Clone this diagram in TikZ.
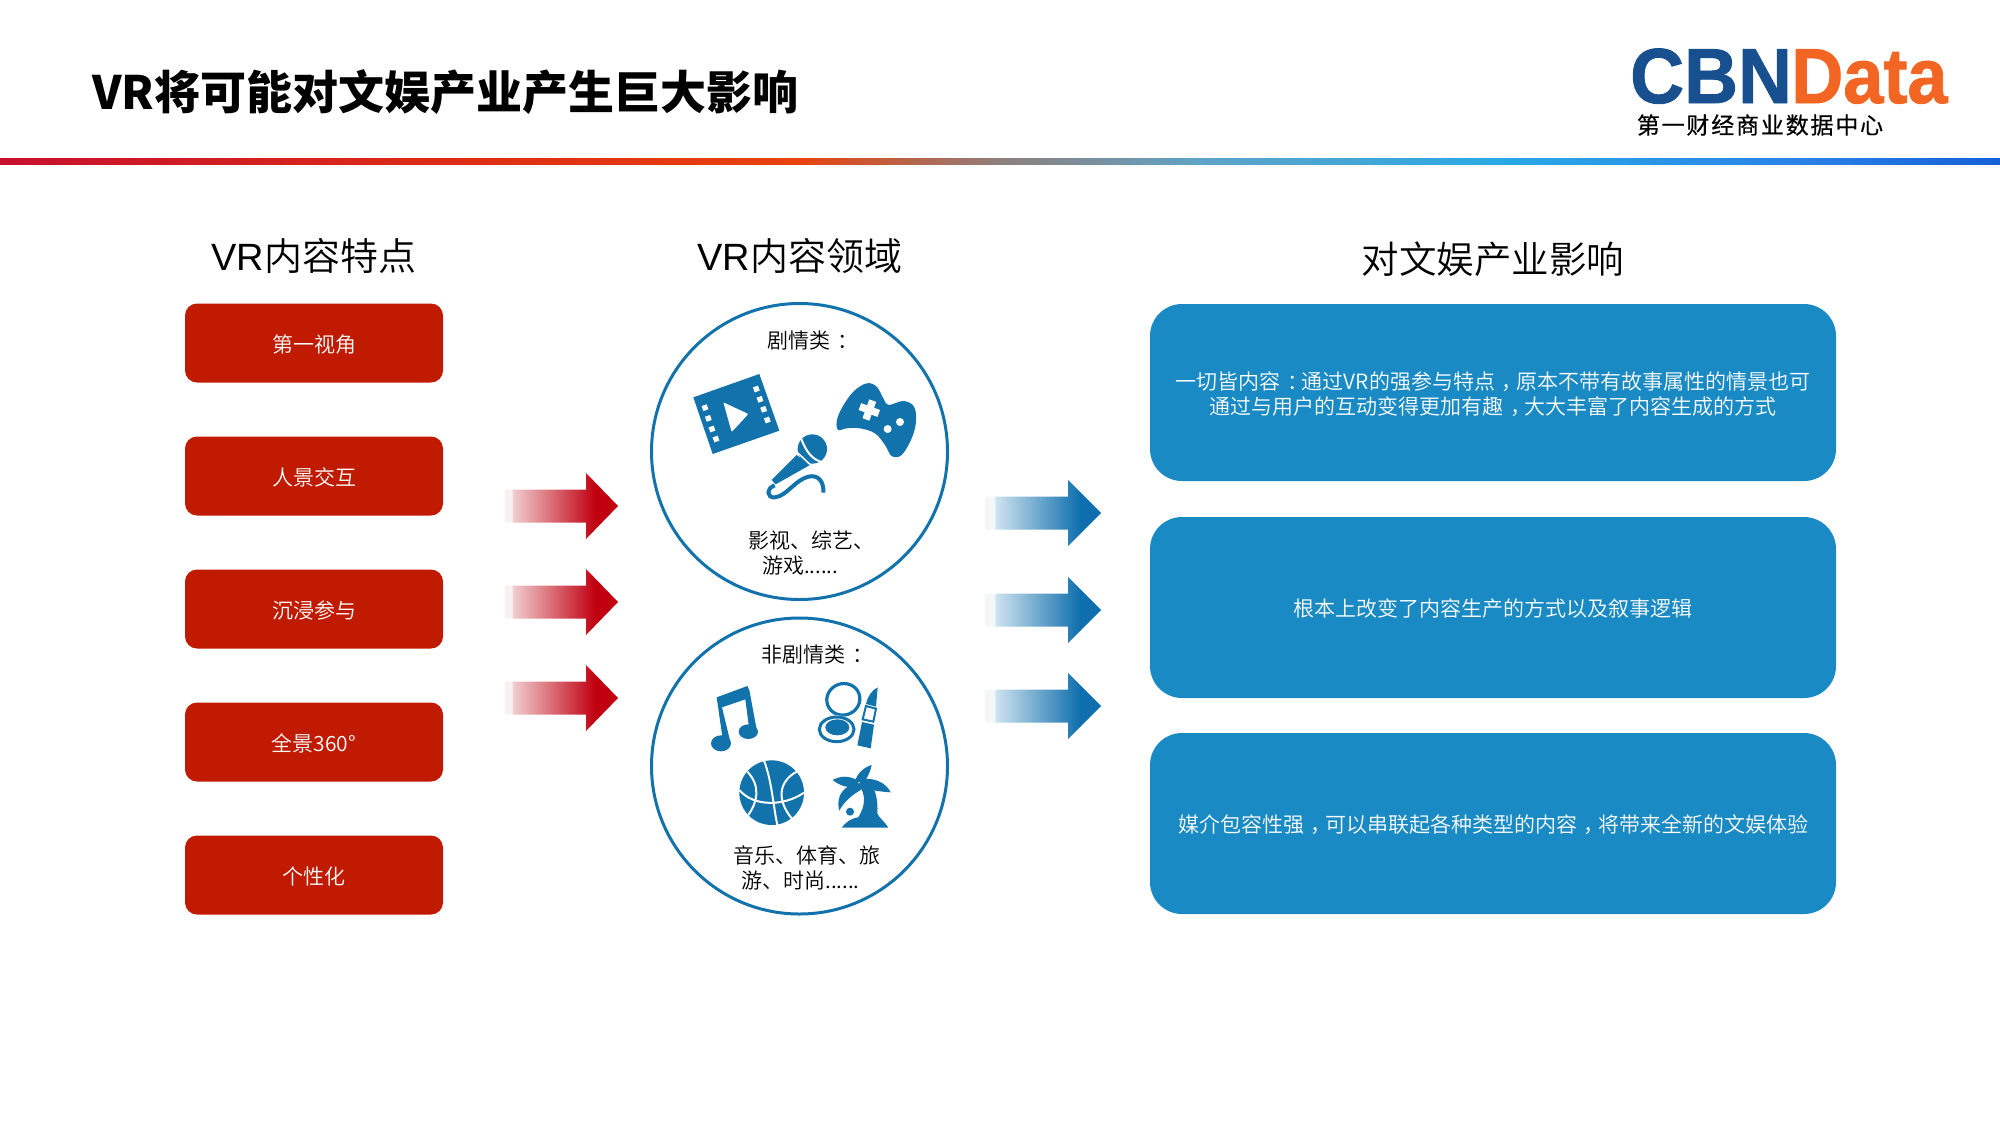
\documentclass[tikz,border=0pt]{standalone}
\usepackage{fontspec}
\usepackage{graphicx}
\setmainfont{Noto Sans CJK SC}
\newfontfamily\logofont[FakeBold=1.2]{Liberation Sans}
\newfontfamily\latinfont{Liberation Sans}
\newfontfamily\subtitlecjk[FakeBold=.5]{Noto Sans CJK SC}
\newfontfamily\lightcjk{Noto Sans CJK SC DemiLight}
\usetikzlibrary{shapes.geometric}

\definecolor{ruleA}{HTML}{C8102E}
\definecolor{ruleB}{HTML}{DE2F12}
\definecolor{ruleC}{HTML}{E8430F}
\definecolor{ruleD}{HTML}{8F7F7C}
\definecolor{ruleE}{HTML}{5FA3C6}
\definecolor{ruleF}{HTML}{2AA9E6}
\definecolor{ruleG}{HTML}{2A82E6}
\definecolor{ruleH}{HTML}{1560D8}
\definecolor{featurered}{HTML}{C01B00}
\definecolor{impactblue}{HTML}{1A8AC4}
\definecolor{iconblue}{HTML}{1272AB}
\definecolor{logoblue}{HTML}{174F8F}
\definecolor{logoorange}{HTML}{F26522}
\definecolor{redfade}{HTML}{F1CDD0}
\definecolor{redpale}{HTML}{F9F0F0}
\definecolor{redfull}{HTML}{C00010}
\definecolor{bluefade}{HTML}{CFE3EF}
\definecolor{bluepale}{HTML}{F3F7FA}
\definecolor{bluefull}{HTML}{0F6FAE}

\pgfdeclarehorizontalshading{headerrule}{100bp}{
  color(0bp)=(ruleA); color(25bp)=(ruleA); color(37.5bp)=(ruleB); color(45bp)=(ruleC);
  color(50bp)=(ruleD); color(55bp)=(ruleE); color(62.5bp)=(ruleF); color(70bp)=(ruleG);
  color(75bp)=(ruleH); color(100bp)=(ruleH)}
\pgfdeclarehorizontalshading{redarrow}{100bp}{
  color(0bp)=(redpale); color(28bp)=(redpale); color(28.5bp)=(redfade);
  color(65bp)=(redfull); color(100bp)=(redfull)}
\pgfdeclarehorizontalshading{bluearrow}{100bp}{
  color(0bp)=(bluepale); color(29bp)=(bluepale); color(29.5bp)=(bluefade);
  color(66bp)=(bluefull); color(100bp)=(bluefull)}

% punctuation set in the middle of its cell
\newcommand{\midp}[1]{\makebox[1em][l]{\hspace*{.33em}#1}}
\newcommand{\fsz}[1]{\fontsize{#1}{25}\selectfont}
\newcommand{\lowered}[1]{\raisebox{-1.2pt}[\height][\depth]{#1}}

\tikzset{
  feature/.style={rectangle, rounded corners=12pt, fill=featurered, text=white,
    minimum width=258pt, minimum height=79pt, inner sep=0pt, font=\lightcjk\fsz{21}},
  impact/.style={rectangle, rounded corners=32pt, fill=impactblue, text=white,
    minimum width=686pt, inner sep=0pt, align=center, font=\lightcjk\fsz{21}},
  fieldring/.style={circle, draw=iconblue, line width=3pt, minimum size=296pt, inner sep=0pt},
  heading/.style={inner sep=0pt, text=black},
  caption/.style={inner sep=0pt, align=center, text=black, font=\lightcjk\fsz{21}},
  icon/.style={fill=iconblue, draw=none},
  gap/.style={fill=white, draw=none},
  seam/.style={draw=white, line width=2pt}
}

\begin{document}
\begin{tikzpicture}[x=1pt, y=-1pt]
\useasboundingbox (0,0) rectangle (2000,1125);

% title bar
\node[anchor=west, inner sep=0pt] (title) at (92,92) {\fontsize{46}{50}\selectfont\bfseries VR将可能对文娱产业产生巨大影响};
\shade[shading=headerrule] (0,158) rectangle (2000,164);

% logo
\node[anchor=base west, inner sep=0pt, text=logoblue] (logoa) at (1630,103)
  {\scalebox{.957}[1]{\logofont\fontsize{78}{80}\selectfont\bfseries CBN}};
\node[anchor=base west, inner sep=0pt, text=logoorange] (logob) at (1791,103)
  {\scalebox{.925}[1]{\logofont\fontsize{78}{80}\selectfont\bfseries Data}};
\node[anchor=center, inner sep=0pt] (logoc) at (1760,125)
  {\subtitlecjk\fontsize{23}{25}\selectfont 第\hspace{1.8pt}一\hspace{1.8pt}财\hspace{1.8pt}经\hspace{1.8pt}商\hspace{1.8pt}业\hspace{1.8pt}数\hspace{1.8pt}据\hspace{1.8pt}中\hspace{1.8pt}心};

% column headings
\node[heading] (heada) at (314,256) {\lightcjk\fontsize{38}{42}\selectfont{\latinfont VR}内容特点};
\node[heading] (headb) at (800,256) {\lightcjk\fontsize{38}{42}\selectfont{\latinfont VR}内容领域};
\node[heading] (headc) at (1493,259) {\lightcjk\fontsize{37.5}{42}\selectfont 对文娱产业影响};

% feature boxes
\node[feature] (fa) at (314,343) {\lowered{第一视角}};
\node[feature] (fb) at (314,476) {\lowered{人景交互}};
\node[feature] (fc) at (314,609) {\lowered{沉浸参与}};
\node[feature] (fd) at (314,742) {\lowered{全景360°}};
\node[feature] (fe) at (314,875) {\lowered{个性化}};

% arrows
\foreach \yy in {506,602,698}
  \shade[shading=redarrow, shift={(0,\yy)}]
    (505,-16.5) -- (586,-16.5) -- (586,-33) -- (618,0) -- (586,33) -- (586,16.5) -- (505,16.5) -- cycle;
\foreach \yy in {513,610,706}
  \shade[shading=bluearrow, shift={(0,\yy)}]
    (985,-16.5) -- (1068,-16.5) -- (1068,-33) -- (1101,0) -- (1068,33) -- (1068,16.5) -- (985,16.5) -- cycle;

% domain circles
\node[fieldring] (ca) at (799.5,451.5) {};
\node[fieldring] (cb) at (799.5,766) {};

\node[caption, anchor=west] (capa) at (767,341) {剧情类\midp{：}};
\node[caption] (capb) at (800,553) {\hspace*{23pt}影视、综艺、\\游戏......};
\node[caption, anchor=west] (capc) at (761,655) {非剧情类\midp{：}};
\node[caption] (capd) at (806.5,868) {音乐、体育、旅\\游、时尚......\hspace*{12pt}};

% icons of the upper circle
\begin{scope}[shift={(640,290)}, x=.33333pt, y=-.33333pt]
  % film strip
  \fill[icon] (160,322) -- (358,252) -- (418,422) -- (218,492) -- cycle;
  \foreach \px/\py in {195/353,205/385,216/417,228/447,349/297,360/328,371/358,382/390}
    \fill[gap, shift={(\px,\py)}, rotate=19.5] (-8,-8) rectangle (8,8);
  \fill[gap, rounded corners=1pt] (250,337) -- (325,372) -- (275,426) -- cycle;
  % game pad
  \fill[icon] plot[smooth cycle, tension=.6] coordinates {
    (590,395) (605,355) (640,305) (680,280) (710,290) (730,325) (745,345) (790,333)
    (822,350) (828,395) (815,445) (785,495) (755,498) (735,465) (705,430) (660,415)
    (620,415) (595,420)};
  \fill[gap, shift={(688,360)}, rotate=-20] (-30,-11) rectangle (30,11) (-11,-30) rectangle (11,30);
  \fill[gap] (780,396) circle[radius=12] (743,417) circle[radius=12];
  % microphone
  \fill[icon] (517,477) circle[radius=44];
  \draw[draw=white, line width=2pt] (484,447) .. controls (500,490) and (520,510) .. (548,517);
  \fill[icon] (470,495) -- (395,570) -- (407,583) -- (510,525) -- cycle;
  \draw[draw=white, line width=1.5pt] (474,489) -- (515,528);
  \draw[draw=iconblue, line width=4pt]
    (404,586) .. controls (378,595) and (380,625) .. (405,622)
    .. controls (440,618) and (465,570) .. (505,560)
    .. controls (535,553) and (552,575) .. (550,608);
\end{scope}

% icons of the lower circle
\begin{scope}[shift={(640,610)}, x=.33333pt, y=-.33333pt]
  % music notes
  \fill[icon] (230,262) -- (322,228) -- (328,240) -- (352,370) -- (330,375)
    -- (316,268) -- (246,292) -- (272,400) -- (250,400) -- cycle;
  \fill[icon] (243,400) ellipse[x radius=30, y radius=24];
  \fill[icon] (325,365) ellipse[x radius=29, y radius=22];
  % compact
  \draw[draw=iconblue, line width=3.2pt] (610,268) ellipse[x radius=50, y radius=47, rotate=20];
  \fill[gap] (590,358) ellipse[x radius=58, y radius=42];
  \draw[draw=iconblue, line width=3pt] (590,358) ellipse[x radius=52, y radius=37];
  \fill[icon] (592,352) ellipse[x radius=36, y radius=24];
  % lipstick
  \fill[icon] (713,232) -- (708,290) -- (678,282) .. controls (682,262) and (695,240) .. (713,232) -- cycle;
  \draw[draw=iconblue, line width=2pt] (678,288) -- (708,296) -- (700,335) -- (668,328) -- cycle;
  \fill[icon] (666,336) -- (702,344) -- (692,415) -- (652,406) -- cycle;
  % basketball
  \fill[icon] (395,548) circle[radius=97];
  \draw[seam] (372,452) .. controls (395,510) and (400,590) .. (412,645);
  \draw[seam] (298,540) .. controls (340,590) and (430,590) .. (492,548);
  \draw[seam] (322,485) .. controls (365,530) and (350,580) .. (325,615);
  \draw[seam] (470,485) .. controls (415,515) and (410,570) .. (455,625);
  % palm
  \fill[icon] (655,520) .. controls (680,555) and (675,590) .. (655,622)
    .. controls (630,625) and (615,640) .. (605,653) -- (745,653)
    .. controls (730,630) and (718,625) .. (712,610)
    .. controls (715,570) and (705,535) .. (690,515) -- cycle;
  \fill[icon] (660,510) .. controls (700,498) and (740,520) .. (752,547)
    .. controls (720,545) and (690,540) .. (660,532) -- cycle;
  \fill[icon] (645,515) .. controls (650,490) and (675,470) .. (695,465)
    .. controls (690,490) and (680,505) .. (672,518) -- cycle;
  \fill[icon] (655,512) .. controls (625,495) and (600,498) .. (578,510)
    .. controls (600,528) and (625,535) .. (655,530) -- cycle;
  \fill[icon] (660,520) .. controls (615,522) and (585,555) .. (598,602)
    .. controls (612,575) and (635,555) .. (670,535) -- cycle;
  \fill[gap] (630,605) circle[radius=18];
  \fill[icon] (630,605) circle[radius=12];
\end{scope}

% impact boxes
\node[impact, minimum height=177pt] (ia) at (1493,392.5)
  {\lowered{一切皆内容\midp{：}通过VR的强参与特点\midp{，}原本不带有故事属性的情景也可}\\
   \lowered{通过与用户的互动变得更加有趣\midp{，}大大丰富了内容生成的方式}};
\node[impact, minimum height=181pt] (ib) at (1493,607.5) {\lowered{根本上改变了内容生产的方式以及叙事逻辑}};
\node[impact, minimum height=181pt] (ic) at (1493,823.5)
  {\lowered{媒介包容性强\midp{，}可以串联起各种类型的内容\midp{，}将带来全新的文娱体验}};
\end{tikzpicture}
\end{document}
